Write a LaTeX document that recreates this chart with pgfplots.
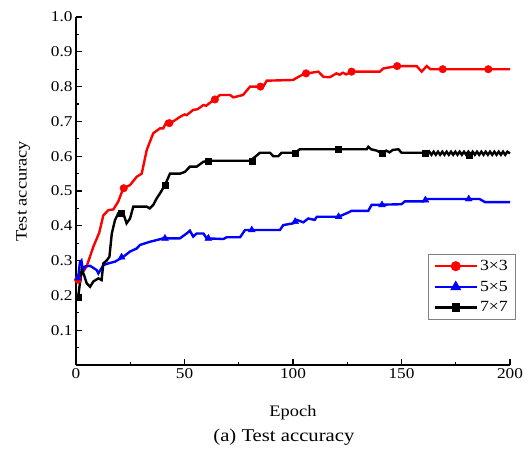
\documentclass[border=0pt]{standalone}
\usepackage{pgfplots}
\pgfplotsset{compat=1.18}
\usepackage{fontspec}
\setmainfont[FakeStretch=1.15]{Liberation Serif}
\begin{document}
\begin{tikzpicture}
\useasboundingbox (-76pt,-91pt) rectangle (456pt,365pt);
\begin{axis}[
  at={(0pt,0pt)}, anchor=south west,
  scale only axis, width=434pt, height=348pt,
  xmin=0, xmax=200, ymin=0, ymax=1,
  axis x line*=bottom, axis y line*=left,
  axis line style={line width=1.6pt},
  tick align=inside,
  major tick length=6pt, minor tick length=3pt,
  every tick/.style={line width=1.2pt, black},
  xtick={0,50,100,150,200}, minor x tick num=1,
  ytick={0.1,0.2,0.3,0.4,0.5,0.6,0.7,0.8,0.9,1.0},
  minor ytick={0.05,0.15,0.25,0.35,0.45,0.55,0.65,0.75,0.85,0.95},
  xticklabel={\pgfmathprintnumber[assume math mode=true]{\tick}},
  yticklabel={\pgfmathprintnumber[fixed,fixed zerofill,precision=1,assume math mode=true]{\tick}},
  ticklabel style={font=\fontsize{15}{18}\selectfont},
  xlabel={Epoch}, ylabel={Test accuracy},
  label style={font=\fontsize{16}{19}\selectfont},
  xlabel style={at={(axis description cs:0.5,-0.138)}, anchor=center},
  ylabel style={at={(axis description cs:-0.122,0.5)}, anchor=center},
  clip=false,
  legend image code/.code={\draw[mark repeat=2,mark phase=2,#1] plot coordinates {(0cm,0cm) (0.74cm,0cm) (1.48cm,0cm)};},
  legend style={at={(1.012,0.319)}, anchor=north east, draw=gray, line width=0.6pt,
    font=\fontsize{15.5}{18}\selectfont, inner xsep=5pt, inner ysep=4pt, row sep=5pt},
  legend cell align=left,
]
\addlegendimage{red, line width=2.4pt, mark=*, mark size=3.8pt}
\addlegendentry{3×3}
\addlegendimage{blue, line width=2.4pt, mark=triangle*, mark size=4pt}
\addlegendentry{5×5}
\addlegendimage{black, line width=2.4pt, mark=square*, mark size=3pt}
\addlegendentry{7×7}

% 3x3 (red)
\addplot[red, line width=2.4pt, forget plot] coordinates {
(0,0.24) (1,0.245) (3,0.265) (5,0.285) (8,0.34) (10.7,0.38) (12.6,0.43) (14.9,0.445) (17.2,0.447) (19.5,0.47) (21.8,0.508) (24.9,0.517) (28,0.541) (30.3,0.55) (32.6,0.618) (35.6,0.666) (38.7,0.68) (40.2,0.68) (41.8,0.70) (43.3,0.694) (46,0.705) (47.9,0.713) (50,0.72) (51,0.718) (54,0.733) (56,0.735) (58.7,0.747) (60,0.745) (63.3,0.761) (66.4,0.776) (71,0.776) (72.5,0.769) (77,0.776) (80.2,0.80) (86.3,0.80) (87.9,0.817) (100,0.819) (102.5,0.828) (105.5,0.838) (108.6,0.84) (111.7,0.843) (114,0.828) (117,0.827) (120,0.838) (121.5,0.834) (123,0.84) (124.5,0.835) (127,0.843) (140,0.843) (141.6,0.852) (147.8,0.859) (157,0.859) (159.3,0.843) (161.6,0.859) (163.4,0.85) (200,0.85)
};
\addplot[red, only marks, mark=*, mark size=3.8pt, forget plot] coordinates {
(1,0.245) (22,0.508) (43,0.695) (64,0.763) (85,0.80) (106,0.838) (127,0.843) (148,0.859) (169,0.85) (190,0.85)
};

% 5x5 (blue)
\addplot[blue, line width=2.4pt, forget plot] coordinates {
(0,0.244) (1,0.25) (1.8,0.295) (2.5,0.30) (3.2,0.27) (4.1,0.283) (6.5,0.285) (9.5,0.273) (10.3,0.263) (12.6,0.287) (14.9,0.292) (18,0.297) (21.8,0.311) (24.9,0.326) (28,0.335) (29.5,0.345) (34,0.354) (37.2,0.359) (40.2,0.364) (47.9,0.364) (51,0.378) (52.5,0.386) (54,0.369) (55.6,0.378) (58.7,0.378) (60.2,0.364) (67.9,0.362) (69.4,0.367) (75.6,0.367) (77.9,0.388) (94,0.388) (95.5,0.402) (100,0.407) (101.7,0.417) (104.8,0.41) (107,0.421) (110,0.417) (111,0.426) (121,0.426) (124.7,0.436) (127,0.443) (134.7,0.443) (136.2,0.46) (150,0.462) (151.5,0.47) (160,0.47) (161.6,0.477) (186,0.477) (188.5,0.468) (200,0.468)
};
\addplot[blue, only marks, mark=triangle*, mark size=4pt, forget plot] coordinates {
(1,0.25) (21,0.31) (41,0.364) (61,0.364) (81,0.388) (101,0.412) (121,0.426) (141,0.46) (161,0.474) (181,0.477)
};

% 7x7 (black)
\addplot[black, line width=2.4pt, forget plot] coordinates {
(1,0.196) (1.5,0.22) (2.6,0.273) (3.7,0.259) (4.9,0.235) (6.5,0.225) (8,0.24) (10.3,0.249) (11.8,0.244) (12.6,0.292) (14.1,0.30) (15.4,0.311) (16.5,0.378) (18,0.417) (19.5,0.436) (21.8,0.436) (23.3,0.407) (24.9,0.421) (26.4,0.455) (32.6,0.455) (34,0.45) (35.6,0.46) (37.2,0.479) (38.7,0.493) (41,0.517) (43.3,0.55) (48,0.55) (50.2,0.555) (52.5,0.57) (55.6,0.57) (58.7,0.584) (61,0.587) (80.2,0.587) (82.5,0.598) (84.8,0.61) (89.4,0.61) (90.9,0.60) (93.2,0.60) (94.8,0.61) (101,0.61) (103.2,0.62) (134,0.62) (134.7,0.627) (136,0.62) (138.6,0.616) (141,0.608) (143,0.616) (144.5,0.611) (146,0.618) (148.6,0.62) (150,0.61) (160.8,0.61)
(161.8,0.604) (162.8,0.613) (163.8,0.604) (164.8,0.613) (165.8,0.604) (166.8,0.613) (167.8,0.604) (168.8,0.613) (169.8,0.604) (170.8,0.613) (171.8,0.604) (172.8,0.613) (173.8,0.604) (174.8,0.613) (175.8,0.604) (176.8,0.613) (177.8,0.604) (178.8,0.613) (179.8,0.604) (180.8,0.613) (181.8,0.604) (182.8,0.613) (183.8,0.604) (184.8,0.613) (185.8,0.604) (186.8,0.613) (187.8,0.604) (188.8,0.613) (189.8,0.604) (190.8,0.613) (191.8,0.604) (192.8,0.613) (193.8,0.604) (194.8,0.613) (195.8,0.604) (196.8,0.613) (197.8,0.604) (198.8,0.613) (200,0.608)
};
\addplot[black, only marks, mark=square*, mark size=3pt, forget plot] coordinates {
(1,0.196) (21,0.436) (41,0.517) (61,0.587) (81,0.587) (101,0.61) (121,0.62) (141,0.608) (161,0.61) (181,0.604)
};

\node[font=\fontsize{18}{21}\selectfont] at (axis description cs:0.479,-0.207) {(a) Test accuracy};
\end{axis}
\end{tikzpicture}
\end{document}
